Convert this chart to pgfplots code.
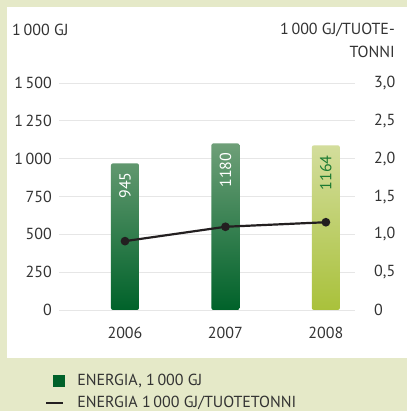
\documentclass[border=0pt]{standalone}
\usepackage{fontspec}
\setmainfont{PT Sans}
\usepackage{pgfplots}
\pgfplotsset{compat=1.18}
\definecolor{bgout}{HTML}{E5E9C8}
\definecolor{txt}{HTML}{333333}
\definecolor{gridc}{HTML}{E6E6E6}
\definecolor{gtop}{HTML}{6E9F78}
\definecolor{gbot}{HTML}{00622A}
\definecolor{ytop}{HTML}{D3DD9C}
\definecolor{ybot}{HTML}{A9C13B}
\definecolor{lab}{HTML}{1B7A32}
\definecolor{linec}{HTML}{231F20}
\newcommand\f{\fontsize{16}{19}\selectfont}
\begin{document}
\begin{tikzpicture}[x=1pt,y=1pt]
\fill[bgout] (0,0) rectangle (407,411);
\fill[white] (7,53) rectangle (407,404);
\useasboundingbox (0,0) rectangle (407,411);
\node[anchor=west, inner sep=0pt, text=txt, font=\f] at (12,381) {1\,000 GJ};
\node[anchor=east, inner sep=0pt, text=txt, font=\f] at (395,381) {1\,000 GJ/TUOTE-};
\node[anchor=east, inner sep=0pt, text=txt, font=\f] at (395,359) {TONNI};

\pgfplotsset{base/.style={
  at={(59pt,101pt)}, anchor=south west, scale only axis,
  width=296pt, height=227pt,
  xmin=-0.657, xmax=2.29, ymin=0,
  axis line style={draw=none}, major tick length=0pt,
  tick label style={font=\f, text=txt, inner sep=0pt},
}}

\begin{axis}[base, ymax=1500,
  ymajorgrids, grid style={gridc, line width=0.9pt},
  ytick={0,250,500,750,1000,1250,1500},
  yticklabels={0,250,500,750,{1\,000},{1\,250},{1\,500}},
  yticklabel style={anchor=east, xshift=-7pt},
  xtick={0,1,2}, xticklabels={2006,2007,2008},
  xticklabel style={anchor=north, yshift=-17pt},
]
\addplot[ybar, bar width=28pt, bar shift=0pt, draw=none,
  top color=gtop, bottom color=gbot, rounded corners=2pt,
  nodes near coords, point meta=explicit symbolic,
  every node near coord/.style={yshift=-9pt, rotate=90, anchor=east,
    inner sep=0pt, font=\f, text=white}]
  table[meta=lab] {
x y lab
0 969 945
1 1101 1180
};
\addplot[ybar, bar width=28pt, bar shift=0pt, draw=none,
  top color=ytop, bottom color=ybot, rounded corners=2pt,
  nodes near coords, point meta=explicit symbolic,
  every node near coord/.style={yshift=-10pt, rotate=90, anchor=east,
    inner sep=0pt, font=\f, text=lab}]
  table[meta=lab] {
x y lab
2 1088 1164
};
\end{axis}

\begin{axis}[base, ymax=3,
  hide x axis, axis y line*=right,
  ytick={0,0.5,1,1.5,2,2.5,3},
  yticklabels={0,{0,5},{1,0},{1,5},{2,0},{2,5},{3,0}},
  yticklabel style={anchor=west, xshift=19pt},
  legend cell align=left,
  legend style={at={(-0.0473,-0.2819)}, anchor=north west, draw=none,
    fill=none, inner sep=0pt, font=\f, text=txt,
    column sep=12pt, row sep=9.5pt,
    nodes={inner sep=0pt}},
]
\addlegendimage{legend image code/.code={
  \path[draw=none, fill=none] (-7pt,-6pt) rectangle (12pt,6pt);
  \fill[gbot, draw=none] (0pt,-6pt) rectangle (12pt,6pt);}}
\addlegendentry{ENERGIA, 1\,000 GJ}
\addplot[linec, line width=2.2pt, mark=*, mark size=3.2pt,
  legend image code/.code={
  \path[draw=none, fill=none] (-7pt,-6pt) rectangle (12pt,6pt);
  \draw[linec, line width=2.2pt] (-7pt,0pt) -- (10pt,0pt);}]
  coordinates {(0,0.91) (1,1.10) (2,1.16)};
\addlegendentry{ENERGIA 1\,000 GJ/TUOTETONNI}
\end{axis}
\end{tikzpicture}
\end{document}
